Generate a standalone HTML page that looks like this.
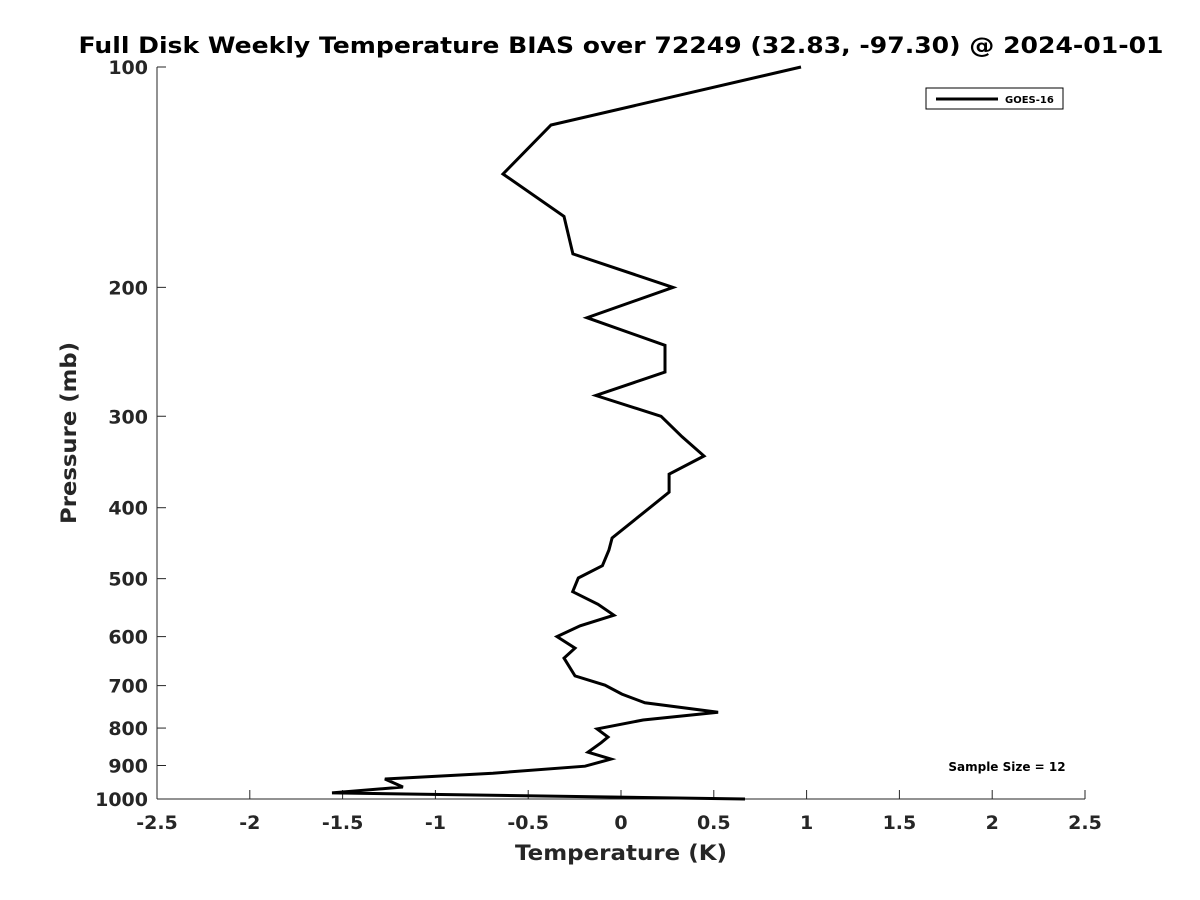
<!DOCTYPE html>
<html><head><meta charset="utf-8"><style>
html,body{margin:0;padding:0;background:#fff;}
svg{display:block;font-family:"DejaVu Sans","Liberation Sans",sans-serif;}
</style></head><body>
<svg id="chart" width="1200" height="900">
<text x="621" y="53" text-anchor="middle" font-size="22" font-weight="bold" fill="#000" textLength="1085" lengthAdjust="spacingAndGlyphs">Full Disk Weekly Temperature BIAS over 72249 (32.83, -97.30) @ 2024-01-01</text>
<g id="axes"></g>
<g id="series"></g>
<text x="621" y="860" text-anchor="middle" font-size="21" font-weight="bold" fill="#262626" textLength="212" lengthAdjust="spacingAndGlyphs">Temperature (K)</text>
<text transform="translate(76,433) rotate(-90)" text-anchor="middle" font-size="21" font-weight="bold" fill="#262626" textLength="182" lengthAdjust="spacingAndGlyphs">Pressure (mb)</text>
<g>
<rect x="926" y="88" width="137" height="21" fill="#fff" stroke="#000" stroke-width="1"/>
<line x1="936" y1="99" x2="998" y2="99" stroke="#000" stroke-width="3"/>
<text x="1005" y="103" font-size="10" font-weight="bold" fill="#000">GOES-16</text>
</g>
<text x="1007" y="771" text-anchor="middle" font-size="12" font-weight="bold" fill="#000">Sample Size = 12</text>
</svg>
<script>
const temps=[0.97,-0.377,-0.636,-0.307,-0.259,0.28,-0.183,0.237,0.237,-0.135,0.216,0.329,0.447,0.259,0.259,-0.048,-0.065,-0.10,-0.23,-0.26,-0.124,-0.038,-0.22,-0.345,-0.248,-0.307,-0.248,-0.086,0.005,0.129,0.523,0.119,-0.129,-0.07,-0.108,-0.178,-0.054,-0.194,-0.69,-1.272,-1.175,-1.557,0.668];
const pressures=[100,120,140,160,180,200,220,240,261,281,300,320,340,360,381,440,457,480,499,521,542,561,580,600,622,642,679,699,719,739,761,780,802,823,838,863,882,902,922,939,963,981,1000];
const xTicks=[-2.5,-2,-1.5,-1,-0.5,0,0.5,1,1.5,2,2.5];
const yTicks=[100,200,300,400,500,600,700,800,900,1000];
const X0=157,X1=1085,Y0=67,Y1=799;
function xs(t){return X0+(t+2.5)/5*(X1-X0);}
function ys(p){return Y0+Math.log10(p/100)*(Y1-Y0);}
const NS="http://www.w3.org/2000/svg";
const axes=document.getElementById('axes');
function mk(tag,attrs,parent){const e=document.createElementNS(NS,tag);for(const k in attrs)e.setAttribute(k,attrs[k]);parent.appendChild(e);return e;}
const xl=mk('line',{x1:X0,y1:Y1,x2:X1,y2:Y1,stroke:'#262626','stroke-width':1},axes);


const yl=mk('line',{x1:X0,y1:Y0,x2:X0,y2:Y1,stroke:'#262626','stroke-width':1},axes);


xTicks.forEach(t=>{
  const x=xs(t);
  mk('line',{x1:x,y1:Y1,x2:x,y2:Y1-9,stroke:'#262626'},axes);
  const tx=mk('text',{x:x,y:829,'text-anchor':'middle','font-size':19,'font-weight':'bold',fill:'#262626'},axes);
  tx.textContent=String(t);
  
  
});
yTicks.forEach(p=>{
  const y=ys(p);
  mk('line',{x1:X0,y1:y,x2:X0+9,y2:y,stroke:'#262626'},axes);
  const tx=mk('text',{x:148,y:y+7,'text-anchor':'end','font-size':19,'font-weight':'bold',fill:'#262626'},axes);
  tx.textContent=String(p);
  
  
});
const pts=temps.map((t,i)=>xs(t).toFixed(1)+','+ys(pressures[i]).toFixed(1)).join(' ');
const line=mk('polyline',{points:pts,fill:'none',stroke:'#000','stroke-width':3,'stroke-linejoin':'miter'},document.getElementById('series'));


</script>
</body></html>
